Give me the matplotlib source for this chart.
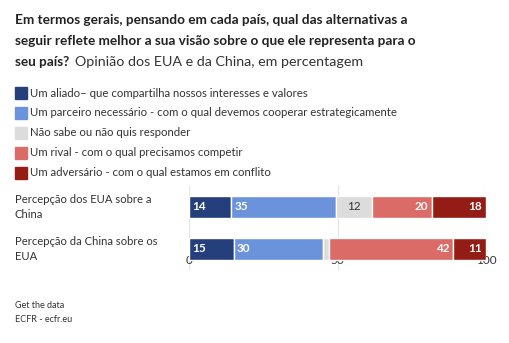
import matplotlib
matplotlib.use("Agg")
import matplotlib.pyplot as plt
from matplotlib.patches import Rectangle

plt.rcParams['font.family'] = ['Lato', 'DejaVu Sans']

categorias = ['Percepção dos EUA sobre a\nChina', 'Percepção da China sobre os\nEUA']
series = [
    'Um aliado– que compartilha nossos interesses e valores',
    'Um parceiro necessário - com o qual devemos cooperar estrategicamente',
    'Não sabe ou não quis responder',
    'Um rival - com o qual precisamos competir',
    'Um adversário - com o qual estamos em conflito',
]
aliado = [14, 15]
parceiro = [35, 30]
nao_sabe = [12, 2]
rival = [20, 42]
adversario = [18, 11]
cores = ['#253e7c', '#6b93db', '#dcdcdc', '#da6b66', '#931d15']
alinhamento = ['left', 'left', 'center', 'right', 'right']
cor_rotulo = ['white', 'white', '#333333', 'white', 'white']

W, H = 510, 343
fig = plt.figure(figsize=(W / 100, H / 100), dpi=100)

def fx(x):
    return x / W

def fy(y):
    return 1 - y / H

# titulo
fig.text(fx(15), fy(20), 'Em termos gerais, pensando em cada país, qual das alternativas a',
         fontsize=9.8, fontweight='bold', va='center', color='#222222')
fig.text(fx(15), fy(41), 'seguir reflete melhor a sua visão sobre o que ele representa para o',
         fontsize=9.8, fontweight='bold', va='center', color='#222222')
t = fig.text(fx(15), fy(62), 'seu país?', fontsize=9.8, fontweight='bold', va='center', color='#222222')
fig.canvas.draw()
bb = t.get_window_extent()
fig.text(bb.x1 / W + fx(6), fy(62), 'Opinião dos EUA e da China, em percentagem',
         fontsize=10.3, va='center', color='#333333')

# legenda
for i, (nome, cor) in enumerate(zip(series, cores)):
    y = 93 + 20 * i
    fig.patches.append(Rectangle((fx(15), fy(y + 6)), fx(12), 12 / H, color=cor,
                                 transform=fig.transFigure, figure=fig))
    fig.text(fx(30), fy(y), nome, fontsize=8.2, va='center', color='#333333')

# grafico
ax = fig.add_axes([fx(189), fy(270), fx(486) - fx(189), 84 / H])
valores = [aliado, parceiro, nao_sabe, rival, adversario]
for j in range(len(categorias)):
    total = sum(v[j] for v in valores)
    esquerda = 0
    for i, v in enumerate(valores):
        w = v[j] * 100 / total
        ax.barh(j, w, left=esquerda, height=0.53, color=cores[i], edgecolor='white', linewidth=1)
        if v[j] >= 5:
            if alinhamento[i] == 'left':
                xt, ha = esquerda + 1.2, 'left'
            elif alinhamento[i] == 'right':
                xt, ha = esquerda + w - 1.2, 'right'
            else:
                xt, ha = esquerda + w / 2, 'center'
            ax.text(xt, j, str(v[j]), ha=ha, va='center', fontsize=8.5,
                    fontweight='bold' if cor_rotulo[i] == 'white' else 'normal',
                    color=cor_rotulo[i])
        esquerda += w

ax.set_xlim(0, 100)
ax.set_ylim(1.5, -0.5)
ax.set_xticks([0, 50, 100])
ax.tick_params(axis='x', length=0, pad=-11, labelsize=8.5, labelcolor='#333333')
ax.set_yticks([])
ax.grid(axis='x', color='#e6e6e6', linewidth=1)
ax.set_axisbelow(True)
for s in ax.spines.values():
    s.set_visible(False)

for j, cat in enumerate(categorias):
    fig.text(fx(15), fy(207 + 42 * j), cat, fontsize=8.1, va='center', color='#333333',
             linespacing=1.5)

# rodape
fig.text(fx(15), fy(305), 'Get the data', fontsize=6.5, va='center', color='#333333')
fig.text(fx(15), fy(320), 'ECFR - ecfr.eu', fontsize=6.5, va='center', color='#333333')

fig.savefig('out.png', dpi=100)
